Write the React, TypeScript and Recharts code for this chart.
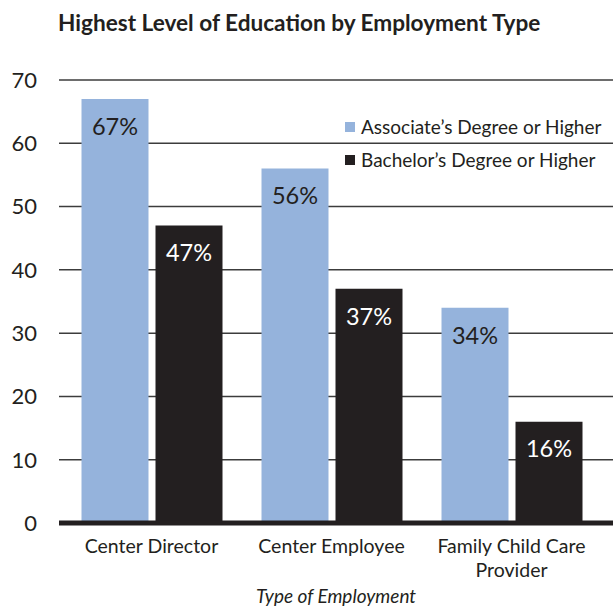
import React from 'react';
import { BarChart, Bar, XAxis, YAxis, CartesianGrid, LabelList, Label, Text } from 'recharts';

const categories = ['Center Director', 'Center Employee', 'Family Child Care Provider'];
const associateValues = [67, 56, 34];
const bachelorValues = [47, 37, 16];
const yTicks = [0, 10, 20, 30, 40, 50, 60, 70];

const BLUE = '#95b3dc';
const DARK = '#231f20';
const FONT = 'Lato, "Open Sans", sans-serif';

const data = categories.map((name, i) => ({
  name,
  associate: associateValues[i],
  bachelor: bachelorValues[i],
}));

const series = [
  { key: 'associate', label: 'Associate\u2019s Degree or Higher', color: BLUE },
  { key: 'bachelor', label: 'Bachelor\u2019s Degree or Higher', color: DARK },
];

function CategoryTick(props: any) {
  const { x, y, payload } = props;
  return (
    <Text
      x={x}
      y={y}
      width={160}
      textAnchor="middle"
      verticalAnchor="start"
      fontSize={19.5}
      fontFamily={FONT}
      fill={DARK}
      lineHeight={24}
    >
      {payload.value}
    </Text>
  );
}

// legend drawn as an overlay so it doesn't eat into the plot width
function LegendBox() {
  return (
    <div style={{ position: 'absolute', left: 345, top: 110, fontFamily: FONT, fontSize: 19, color: DARK }}>
      {series.map((s) => (
        <div key={s.key} style={{ display: 'flex', alignItems: 'center', height: 33, whiteSpace: 'nowrap' }}>
          <span style={{ width: 10, height: 10, background: s.color, marginRight: 6, display: 'inline-block' }} />
          <span>{s.label}</span>
        </div>
      ))}
    </div>
  );
}

export default function App() {
  return (
    <div style={{ position: 'absolute', left: 0, top: 0, width: 613, height: 609, background: '#fff' }}>
      <div
        style={{
          position: 'absolute',
          left: 58,
          top: 9,
          fontFamily: FONT,
          fontWeight: 700,
          fontSize: 22.6,
          color: DARK,
          whiteSpace: 'nowrap',
        }}
      >
        Highest Level of Education by Employment Type
      </div>
      <BarChart
        width={613}
        height={609}
        data={data}
        margin={{ top: 80, right: 0, bottom: 0, left: 0 }}
        barGap={7}
        barSize={67}
      >
        <CartesianGrid horizontal vertical={false} stroke="#3c3c3c" strokeWidth={1.5} />
        <XAxis
          dataKey="name"
          height={86}
          padding={{ left: 2.5, right: 11.5 }}
          axisLine={{ stroke: DARK, strokeWidth: 5 }}
          tickLine={false}
          tickMargin={10}
          tick={<CategoryTick />}
          interval={0}
        >
          <Label
            value="Type of Employment"
            position="insideBottom"
            offset={6}
            fontSize={19}
            fontStyle="italic"
            fontFamily={FONT}
            fill={DARK}
          />
        </XAxis>
        <YAxis
          width={59}
          domain={[0, 70]}
          ticks={yTicks}
          axisLine={false}
          tickLine={false}
          tickSize={0}
          tickMargin={22}
          tick={{ fontSize: 22, fontFamily: FONT, fill: DARK }}
        />
        <Bar dataKey="associate" fill={BLUE} isAnimationActive={false}>
          <LabelList
            dataKey="associate"
            position="insideTop"
            offset={19}
            formatter={(v: any) => `${v}%`}
            fill={DARK}
            fontSize={23.5}
            fontFamily={FONT}
          />
        </Bar>
        <Bar dataKey="bachelor" fill={DARK} isAnimationActive={false}>
          <LabelList
            dataKey="bachelor"
            position="insideTop"
            offset={19}
            formatter={(v: any) => `${v}%`}
            fill="#ffffff"
            fontSize={23.5}
            fontFamily={FONT}
          />
        </Bar>
      </BarChart>
      <LegendBox />
    </div>
  );
}
